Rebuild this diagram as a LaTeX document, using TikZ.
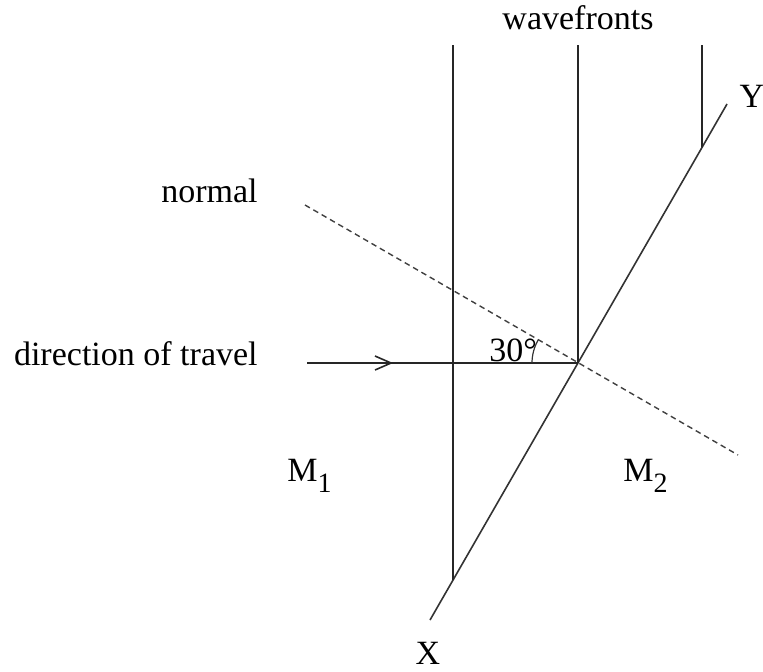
\documentclass[tikz,border=0pt]{standalone}
\usepackage{fontspec}
\setmainfont{Liberation Serif}
\usetikzlibrary{arrows.meta, positioning, calc}
\tikzset{
    front/.style={draw, line width=0.8pt, color=black!85},
    boundary/.style={draw, line width=0.8pt, color=black!80},
    ray/.style={draw, line width=0.8pt, color=black!85},
    normalline/.style={draw, dash pattern=on 2.8pt off 2pt, line width=0.7pt, color=black!75},
    txt/.style={font=\fontsize{17}{20}\selectfont, inner sep=0pt},
    midarrow/.style={-{Straight Barb[length=8pt, width=7pt]}}
}
\newcommand{\medium}[1]{M\raisebox{-0.34em}{\fontsize{14}{14}\selectfont #1}}

\begin{document}
\begin{tikzpicture}[x=0.5pt, y=-0.5pt]
    \useasboundingbox (0,0) rectangle (763,671);

    % boundary between the two media
    \coordinate (X) at (430,620);
    \coordinate (Y) at (727,104);
    \coordinate (P) at (578,363);
    \draw [boundary] (X) -- (Y);

    % wavefronts
    \coordinate (w1top) at (453,45);
    \coordinate (w1bot) at (453,580);
    \coordinate (w2top) at (578,45);
    \coordinate (w3top) at (702,45);
    \coordinate (w3bot) at (702,147);
    \draw [front] (w1top) -- (w1bot);
    \draw [front] (w2top) -- (P);
    \draw [front] (w3top) -- (w3bot);

    % normal
    \coordinate (n1) at (305,205);
    \coordinate (n2) at (738,455);
    \draw [normalline] (n1) -- (n2);

    % direction of travel
    \coordinate (start) at (307,363);
    \coordinate (mid) at (393,363);
    \draw [ray] (start) -- (P);
    \draw [ray, midarrow] (start) -- (mid);

    % angle
    \draw [line width=0.6pt, color=black!80] ($(P)+(-23pt,0pt)$) arc [start angle=180, end angle=150, radius=23pt];

    % labels
    \node [txt, above=7.5pt of w2top] (wavefronts) {wavefronts};
    \node [txt, anchor=base east] (normal) at (258,202) {normal};
    \node [txt, anchor=base east] (travel) at (258,365) {direction of travel};
    \node [txt, anchor=base west] (angle) at (489,361) {30°};
    \node [txt, anchor=base west] (m1) at (287,481) {\medium{1}};
    \node [txt, anchor=base west] (m2) at (623,481) {\medium{2}};
    \node [txt] (xlabel) at (428,653) {X};
    \node [txt] (ylabel) at (752,96) {Y};
\end{tikzpicture}
\end{document}
